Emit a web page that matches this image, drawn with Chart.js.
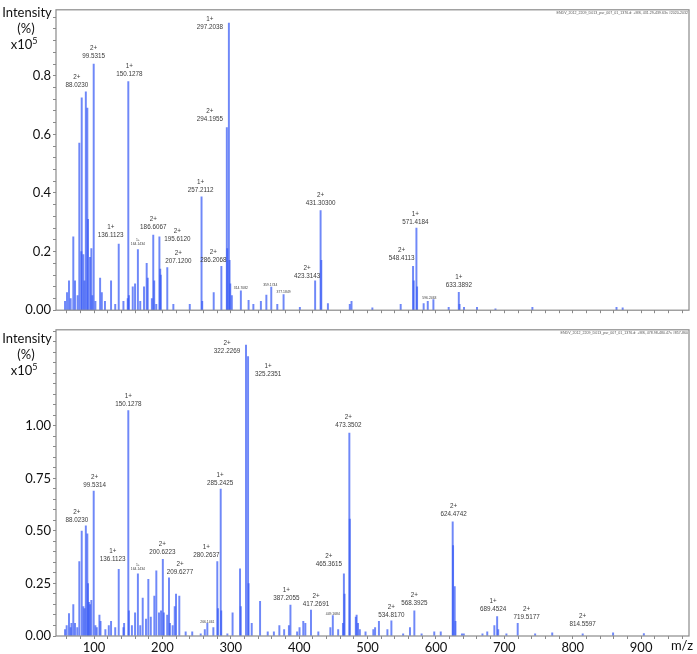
<!DOCTYPE html>
<html>
<head>
<meta charset="utf-8">
<script src="https://cdn.jsdelivr.net/npm/chart.js@4.4.1/dist/chart.umd.min.js"></script>
<style>
  html, body { margin: 0; padding: 0; background: #fff; }
  #wrap { position: relative; width: 697px; height: 654px; overflow: hidden; }
  canvas { position: absolute; left: 0; }
</style>
</head>
<body>
<div id="wrap">
  <canvas id="topChart" width="697" height="320" style="top:0px"></canvas>
  <canvas id="bottomChart" width="697" height="334" style="top:320px"></canvas>
</div>
<script>
// ---- top spectrum: m/z and intensity (x10^5) ----
const topMz = [57.6, 60.5, 63.4, 65.8, 69.7, 72.2, 76.0, 78.5, 81.4, 82.0, 84.4, 86.0, 88.02, 90.2, 91.2, 94.2, 96.1, 97.5, 99.53, 102.0,
  108.9, 111.4, 116.0, 124.9, 131.0, 136.11, 143.0, 149.3, 150.13, 151.0, 156.6, 160.0, 164.14, 167.6, 173.1, 177.0, 178.5, 184.6, 186.61, 188.0,
  191.0, 195.61, 196.8, 197.6, 207.12, 216.0, 240.0, 257.21, 258.2, 275.0, 286.21, 294.2, 294.8, 297.2, 298.2, 299.2, 301.5, 314.71, 326.0, 333.0,
  344.0, 352.0, 359.17, 368.0, 377.18, 401.0, 423.31, 431.3, 432.3, 442.0, 474.0, 476.5, 507.0, 548.41, 566.5, 567.5, 571.42, 572.4, 582.0, 588.0,
  596.25, 618.6, 633.39, 634.5, 641.0, 660.0, 687.0, 741.0, 864.0, 873.0];
const topInt = [0.03, 0.06, 0.10, 0.04, 0.25, 0.10, 0.05, 0.57, 0.20, 0.725, 0.19, 0.10, 0.745, 0.69, 0.31, 0.18, 0.21, 0.05, 0.84, 0.03,
  0.11, 0.06, 0.03, 0.10, 0.02, 0.226, 0.03, 0.04, 0.78, 0.05, 0.08, 0.09, 0.207, 0.03, 0.08, 0.16, 0.11, 0.04, 0.256, 0.10,
  0.02, 0.25, 0.14, 0.12, 0.145, 0.02, 0.02, 0.387, 0.03, 0.06, 0.15, 0.623, 0.21, 0.98, 0.17, 0.09, 0.05, 0.066, 0.034, 0.02,
  0.03, 0.052, 0.079, 0.02, 0.053, 0.01, 0.10, 0.34, 0.17, 0.023, 0.02, 0.03, 0.008, 0.02, 0.15, 0.10, 0.28, 0.08, 0.023, 0.03,
  0.036, 0.01, 0.061, 0.02, 0.01, 0.01, 0.005, 0.01, 0.01, 0.008];

// labelled peaks, top
const topLabelMz = [88.02, 99.53, 136.11, 150.13, 164.14, 186.61, 195.61, 207.12, 257.21, 286.21, 294.2, 297.2, 314.71, 359.17, 377.18, 423.31, 431.3, 548.41, 571.42, 596.25, 633.39];
const topLabelText = ["88.0230", "99.5315", "136.1123", "150.1278", "164.1434", "186.6067", "195.6120", "207.1200", "257.2112", "286.2068", "294.1955", "297.2038",
  "314.7082", "359.1744", "377.1849", "423.3143", "431.30300", "548.4113", "571.4184", "596.2463", "633.3892"];
const topLabelCharge = ["2+", "2+", "1+", "1+", "1+", "2+", "2+", "2+", "1+", "2+", "2+", "1+", "", "", "", "2+", "2+", "2+", "1+", "", "1+"];
const topLabelTiny = ["164.1434", "314.7082", "359.1744", "377.1849", "596.2463"];

// ---- bottom spectrum ----
const botMz = [57.6, 60.0, 63.4, 65.8, 67.0, 69.7, 72.2, 75.5, 78.5, 82.0, 84.4, 86.2, 88.02, 90.2, 91.2, 92.5, 94.2, 96.1, 99.53, 102.0,
  104.0, 107.9, 109.5, 116.6, 121.6, 124.9, 131.0, 136.11, 143.0, 144.0, 150.13, 151.0, 155.4, 160.0, 164.14, 167.6, 171.2, 176.0, 179.4, 183.0,
  188.2, 191.1, 195.0, 198.0, 200.62, 202.0, 207.0, 209.63, 211.0, 215.0, 218.0, 219.9, 224.7, 234.0, 243.6, 256.0, 262.0, 265.7, 274.5, 280.26,
  281.2, 285.24, 286.0, 295.0, 302.6, 313.5, 314.6, 322.23, 325.24, 326.0, 330.6, 342.8, 354.0, 363.0, 371.0, 378.0, 385.0, 387.21, 397.0, 400.5,
  406.0, 409.0, 417.27, 428.0, 445.6, 449.17, 457.0, 464.0, 465.36, 466.3, 473.35, 474.0, 482.8, 484.0, 486.0, 488.7, 497.0, 508.4, 511.0, 516.6,
  529.0, 534.82, 552.0, 562.0, 568.39, 579.0, 597.5, 607.0, 624.47, 625.0, 627.4, 628.5, 638.0, 640.7, 668.0, 675.0, 685.4, 689.45, 691.0, 703.0,
  719.52, 745.0, 770.0, 814.56, 859.0, 904.0];
const botInt = [0.03, 0.05, 0.107, 0.04, 0.06, 0.15, 0.06, 0.04, 0.354, 0.50, 0.14, 0.13, 0.525, 0.487, 0.25, 0.16, 0.15, 0.17, 0.69, 0.05,
  0.04, 0.10, 0.07, 0.03, 0.05, 0.07, 0.04, 0.317, 0.04, 0.06, 1.073, 0.12, 0.05, 0.11, 0.296, 0.05, 0.18, 0.08, 0.27, 0.09,
  0.19, 0.31, 0.11, 0.12, 0.365, 0.11, 0.10, 0.277, 0.06, 0.05, 0.14, 0.20, 0.19, 0.02, 0.02, 0.01, 0.03, 0.06, 0.04, 0.354,
  0.13, 0.70, 0.12, 0.01, 0.11, 0.32, 0.14, 1.385, 1.33, 0.25, 0.06, 0.165, 0.02, 0.02, 0.05, 0.03, 0.05, 0.147, 0.02, 0.04,
  0.07, 0.06, 0.124, 0.02, 0.04, 0.097, 0.03, 0.06, 0.296, 0.20, 0.966, 0.557, 0.09, 0.10, 0.06, 0.03, 0.02, 0.03, 0.04, 0.07,
  0.03, 0.072, 0.01, 0.04, 0.12, 0.01, 0.02, 0.02, 0.544, 0.43, 0.235, 0.07, 0.01, 0.01, 0.01, 0.02, 0.05, 0.092, 0.03, 0.01,
  0.06, 0.01, 0.015, 0.01, 0.015, 0.012];

const botLabelMz = [88.02, 99.53, 136.11, 150.13, 164.14, 200.62, 209.63, 265.7, 280.26, 285.24, 322.23, 325.24, 387.21, 417.27, 449.17, 465.36, 473.35, 534.82, 568.39, 624.47, 689.45, 719.52, 814.56];
const botLabelText = ["88.0230", "99.5314", "136.1123", "150.1278", "164.1434", "200.6223", "209.6277", "266.1461", "280.2637", "285.2425", "322.2269", "325.2351",
  "387.2055", "417.2691", "449.1684", "465.3615", "473.3502", "534.8170", "568.3925", "624.4742", "689.4524", "719.5177", "814.5597"];
const botLabelCharge = ["2+", "2+", "1+", "1+", "1+", "2+", "2+", "", "1+", "1+", "2+", "1+", "1+", "2+", "", "2+", "2+", "2+", "2+", "2+", "1+", "2+", "2+"];
const botLabelTiny = ["164.1434", "266.1461", "449.1684"];

// tick labels
const topYTicks = [0, 0.2, 0.4, 0.6, 0.8];
const topYTickLabels = ["0.00", "0.2", "0.4", "0.6", "0.8"];
const botYTicks = [0, 0.25, 0.5, 0.75, 1.0];
const botYTickLabels = ["0.00", "0.25", "0.50", "0.75", "1.00"];
const xTicks = [100, 200, 300, 400, 500, 600, 700, 800, 900];

// label placement (px): [dx, gap above peak top]
const topLabelShift = [[-9, 7], [0, 8], [-8, 9], [1, 7], [0, 5], [0, 8], [18, -2], [11, 6], [-1, 7], [-8, 6], [-17, 8], [-19, -4],
  [0, 3], [-1, 2], [0, 3], [-8, 5], [0, 7], [1, 46], [-1, 6], [-4, 2], [0, 7]];
const botLabelShift = [[-9, 5], [1, 6], [-6, 10], [0, 6], [0, 5], [-0.5, 7], [11, 6], [0, 1], [-11, 6], [-0.6, 6], [-19, -6], [20, -18],
  [-4, 7], [5, 6], [0, 2], [-15, 10], [-1, 8], [0, 6], [0, 8], [1, 7], [-4, 7], [9, 6], [0, 10]];

const FONT = "Lato, 'Open Sans', sans-serif";
const AXIS_COLOR = "#8a8a8a";

//build label objects from the arrays
function makeLabels(mzs, texts, charges, tiny, shifts) {
  return mzs.map((m, i) => ({
    mz: m, text: texts[i], charge: charges[i],
    tiny: tiny.includes(texts[i]),
    dx: shifts[i][0], gap: shifts[i][1]
  }));
}

function minorTicks(from, to, step) {
  let out = [];
  for (let v = from; v <= to + 1e-9; v += step) out.push(Math.round(v * 1000) / 1000);
  return out;
}

const peakLabelPlugin = {
  id: "peakLabels",
  afterDatasetsDraw(chart) {
    const ctx = chart.ctx;
    const xs = chart.scales.x, ys = chart.scales.y;
    const pts = chart.data.datasets[0].data;
    ctx.save();
    ctx.fillStyle = "#3a3a3a";
    ctx.textAlign = "center";
    ctx.textBaseline = "middle";
    chart.options.plugins.peakLabels.items.forEach(l => {
      const p = pts.find(d => d.x === l.mz);
      if (!p) return;
      const x = xs.getPixelForValue(p.x) + l.dx;
      const y = ys.getPixelForValue(p.y) - l.gap;
      ctx.font = l.tiny ? "3.4px 'Liberation Sans'" : "6.3px 'Liberation Sans'";
      ctx.fillText(l.text, x, y);
      if (l.charge) ctx.fillText(l.charge, x, y - (l.tiny ? 4 : 8));
    });
    ctx.restore();
  }
};

const framePlugin = {
  id: "frame",
  afterDraw(chart) {
    const a = chart.chartArea, ctx = chart.ctx, o = chart.options.plugins.frame;
    ctx.save();
    ctx.strokeStyle = AXIS_COLOR;
    ctx.lineWidth = 1.2;
    ctx.strokeRect(a.left, a.top, a.right - a.left, a.bottom - a.top);
    // y title
    ctx.fillStyle = "#111";
    ctx.textAlign = "center";
    ctx.textBaseline = "middle";
    ctx.font = "13px " + FONT;
    ctx.fillText("Intensity", 27, o.titleY);
    ctx.fillText("(%)", 26, o.titleY + 16);
    ctx.textAlign = "left";
    let w = ctx.measureText("x10").width;
    ctx.fillText("x10", 24 - (w + 5) / 2, o.titleY + 32);
    ctx.font = "9px " + FONT;
    ctx.fillText("5", 24 - (w + 5) / 2 + w, o.titleY + 28);
    // file name
    ctx.fillStyle = "#555";
    ctx.textAlign = "right";
    ctx.font = "3.6px 'Liberation Sans'";
    ctx.fillText(o.file, a.right - 1, a.top + 3);
    if (o.mz) {
      ctx.fillStyle = "#111";
      ctx.textAlign = "center";
      ctx.font = "13px " + FONT;
      ctx.fillText("m/z", 682, a.bottom + 10);
    }
    ctx.restore();
  }
};

function buildSpectrum(id, mz, inten, cfg) {
  let ctx = document.getElementById(id).getContext("2d");
  return new Chart(ctx, {
    type: "bar",
    data: {
      datasets: [{
        data: mz.map((m, i) => ({ x: m, y: inten[i] })),
        backgroundColor: "rgba(55, 90, 245, 0.72)",
        barThickness: 1.3,
        borderWidth: 0
      }]
    },
    options: {
      responsive: false,
      animation: false,
      events: [],
      layout: { padding: { top: cfg.padTop, right: 8, left: 0, bottom: 0 } },
      plugins: {
        legend: { display: false },
        tooltip: { enabled: false },
        peakLabels: { items: cfg.labels },
        frame: { titleY: cfg.titleY, file: cfg.file, mz: cfg.showX }
      },
      scales: {
        x: {
          type: "linear",
          min: 44.4,
          max: 970,
          offset: false,
          border: { display: false },
          grid: { offset: false, drawOnChartArea: false, tickLength: 3, color: AXIS_COLOR },
          afterBuildTicks: s => { s.ticks = minorTicks(60, 960, 20).map(v => ({ value: v })); },
          afterFit: s => { s.height = cfg.xHeight; },
          ticks: {
            autoSkip: false,
            maxRotation: 0,
            padding: 1,
            color: "#111",
            font: { family: FONT, size: 13 },
            callback: v => (cfg.showX && xTicks.includes(v)) ? String(v) : ""
          }
        },
        y: {
          min: 0,
          max: cfg.yMax,
          border: { display: false },
          grid: { drawOnChartArea: false, tickLength: 3, color: AXIS_COLOR },
          afterBuildTicks: s => { s.ticks = minorTicks(0, cfg.yMax, cfg.yMinor).map(v => ({ value: v })); },
          afterFit: s => { s.width = 56; },
          ticks: {
            autoSkip: false,
            padding: 2,
            color: "#111",
            font: { family: FONT, size: 13 },
            callback: v => {
              let k = cfg.yTicks.findIndex(t => Math.abs(t - v) < 1e-6);
              return k >= 0 ? cfg.yTickLabels[k] : "";
            }
          }
        }
      }
    },
    plugins: [peakLabelPlugin, framePlugin]
  });
}

let topChart = buildSpectrum("topChart", topMz, topInt, {
  padTop: 3, xHeight: 3, showX: false, yMax: 1.025, yMinor: 0.04,
  yTicks: topYTicks, yTickLabels: topYTickLabels, titleY: 13,
  file: "ENDV_2012_2209_D013_pur_007_01_1376.d: +MS, 431.29-439.63s #2020-2032",
  labels: makeLabels(topLabelMz, topLabelText, topLabelCharge, topLabelTiny, topLabelShift)
});

let bottomChart = buildSpectrum("bottomChart", botMz, botInt, {
  padTop: 1, xHeight: 18, showX: true, yMax: 1.458, yMinor: 0.05,
  yTicks: botYTicks, yTickLabels: botYTickLabels, titleY: 19,
  file: "ENDV_2012_2209_D013_pur_007_01_1376.d: +MS, 478.98-480.47s #857-860",
  labels: makeLabels(botLabelMz, botLabelText, botLabelCharge, botLabelTiny, botLabelShift)
});
</script>
</body>
</html>
